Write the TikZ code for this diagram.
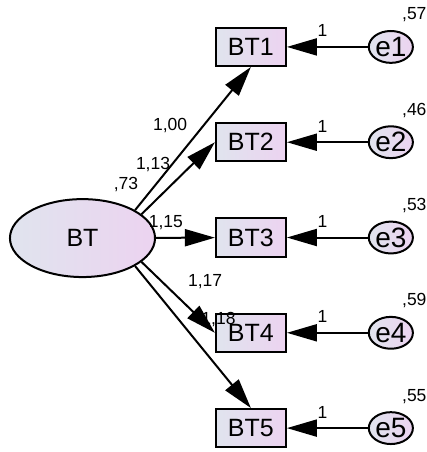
\documentclass[tikz,border=0pt]{standalone}
\usepackage{fontspec}
\setmainfont{Liberation Sans}
\usetikzlibrary{arrows.meta}
\usetikzlibrary{shapes.geometric}

\definecolor{fillL}{HTML}{E0E4EE}
\definecolor{fillR}{HTML}{ECD3F0}

\tikzset{
  obs/.style={draw, line width=2pt, left color=fillL, right color=fillR,
    minimum width=2.46cm, minimum height=1.34cm, inner sep=0pt,
    font=\fontsize{25}{25}\selectfont},
  err/.style={ellipse, draw, line width=2pt, left color=fillL, right color=fillR,
    minimum width=1.55cm, minimum height=1.12cm, inner sep=0pt,
    font=\fontsize{28}{28}\selectfont},
  lat/.style={ellipse, draw, line width=2pt, left color=fillL, right color=fillR,
    minimum width=5.10cm, minimum height=2.74cm, inner sep=0pt,
    font=\fontsize{25}{25}\selectfont},
  arr/.style={-{Triangle[length=30pt,width=17pt]}, line width=2pt},
  lbl/.style={inner sep=0pt, font=\fontsize{17.5}{17.5}\selectfont}
}

\begin{document}
\begin{tikzpicture}
    \useasboundingbox (0,0) rectangle (15.01,15.89);

    % latent variable
    \node[lat] (BT) at (2.90,7.52) {BT};

    % indicators and errors
    \foreach \i/\y in {1/14.24, 2/10.89, 3/7.54, 4/4.19, 5/0.84} {
        \node[obs] (BT\i) at (8.82,\y) {BT\i};
        \node[err] (e\i) at (13.74,\y) {e\i};
    }

    % variances
    \node[lbl, anchor=west] (v1) at (14.13,15.36) {,57};
    \node[lbl, anchor=west] (v2) at (14.13,12.01) {,46};
    \node[lbl, anchor=west] (v3) at (14.13,8.66) {,53};
    \node[lbl, anchor=west] (v4) at (14.13,5.31) {,59};
    \node[lbl, anchor=west] (v5) at (14.13,1.96) {,55};
    \node[lbl] (vBT) at (4.43,9.39) {,73};

    % loadings
    \node[lbl] (l1) at (5.98,11.46) {1,00};
    \node[lbl] (l2) at (5.38,10.09) {1,13};
    \node[lbl] (l3) at (5.83,8.08) {1,15};
    \node[lbl] (l4) at (7.21,5.98) {1,17};
    \node[lbl] (l5) at (7.68,4.64) {1,18};

    % arrows
    \draw[arr] (BT.28) -- (BT1.south);
    \draw[arr] (BT.22) -- (BT2.west);
    \draw[arr] (BT) -- (BT3);
    \draw[arr] (BT.-22) -- (BT4.west);
    \draw[arr] (BT.-28) -- (BT5.north);

    \foreach \i in {1,...,5} {
        \draw[arr] (e\i) -- (BT\i) node[lbl, pos=0.56, above=9pt] {1};
    }
\end{tikzpicture}
\end{document}
